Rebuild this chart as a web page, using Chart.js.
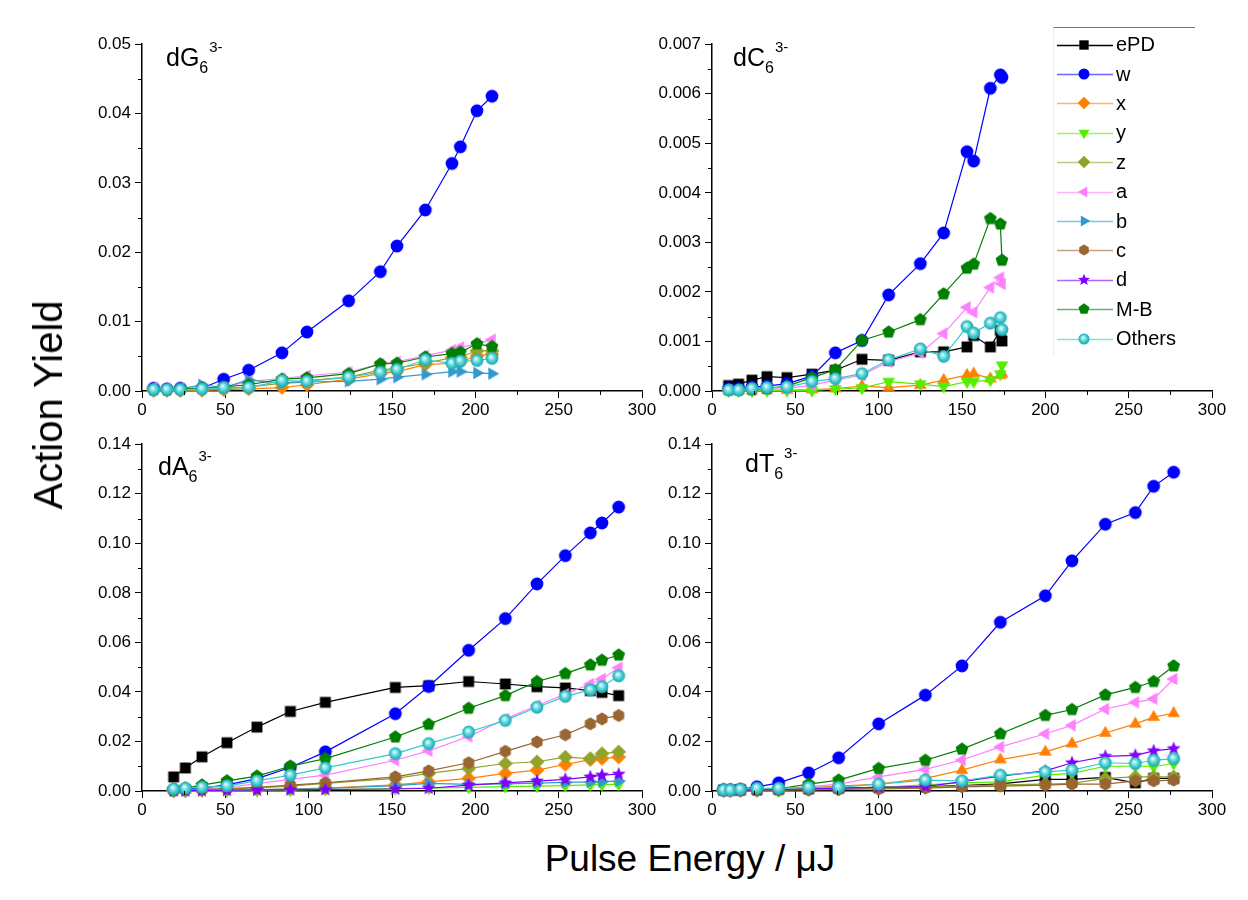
<!DOCTYPE html>
<html>
<head>
<meta charset="utf-8">
<script src="https://cdn.jsdelivr.net/npm/chart.js@4.4.1/dist/chart.umd.min.js"></script>
<style>
  body { margin: 0; background: #fff; font-family: "Liberation Sans", Arial, sans-serif; }
  #wrap { position: relative; width: 1248px; height: 900px; overflow: hidden; }
  canvas.panel { position: absolute; }
  .lab { position: absolute; font-size: 25px; line-height: 1; white-space: nowrap; }
  .lab .sb { position: relative; top: 7px; font-size: 16px; }
  .lab .sp { position: relative; top: -14px; font-size: 15px; margin-left: 1px; }
  .title { position: absolute; white-space: nowrap; line-height: 1; }
  #ytitle { left: 48px; top: 405px; font-size: 40px; transform: translate(-50%, -50%) rotate(-90deg); }
  #xtitle { left: 690px; top: 858px; font-size: 37px; transform: translate(-50%, -50%); }
  #legend { position: absolute; left: 1053px; top: 27px; width: 142px; height: 328px;
            border-top: 1px solid #777; border-left: 1px solid #eee; background: #fff; padding-top: 2px; box-sizing: border-box; }
  .row { display: flex; align-items: center; height: 29.4px; }
  .row canvas { margin-left: 3px; }
  .row span { margin-left: 3px; font-size: 20px; }
</style>
</head>
<body>
<div id="wrap">
  <canvas id="cG" class="panel" width="600" height="400" style="left:60px;top:30px"></canvas>
  <canvas id="cC" class="panel" width="600" height="400" style="left:630px;top:30px"></canvas>
  <canvas id="cA" class="panel" width="600" height="400" style="left:60px;top:430px"></canvas>
  <canvas id="cT" class="panel" width="600" height="400" style="left:630px;top:430px"></canvas>
  <div class="lab" style="left:166px;top:45px">dG<span class="sb">6</span><span class="sp">3-</span></div>
  <div class="lab" style="left:733px;top:45px">dC<span class="sb">6</span><span class="sp">3-</span></div>
  <div class="lab" style="left:158px;top:454px">dA<span class="sb">6</span><span class="sp">3-</span></div>
  <div class="lab" style="left:745px;top:451px">dT<span class="sb">6</span><span class="sp">3-</span></div>
  <div id="ytitle" class="title">Action Yield</div>
  <div id="xtitle" class="title">Pulse Energy / μJ</div>
  <div id="legend"></div>
</div>
<script>
// series shared by all four panels
const seriesNames = ['ePD', 'w', 'x', 'y', 'z', 'a', 'b', 'c', 'd', 'M-B', 'Others'];
const seriesColors = ['#000000', '#0000ff', '#ff8000', '#55ee00', '#93a32a', '#ff80ff', '#3399cc', '#996633', '#8000ff', '#008000', '#33cccc'];
const seriesShapes = ['square', 'circle', 'diamond', 'triDown', 'diamond', 'triLeft', 'triRight', 'hexagon', 'star', 'pentagon', 'sphere'];

// dG6 3-  (ePD, y, c, d not seen in this panel)
const dG_energy = [7, 15, 23, 36, 49, 64, 84, 99, 124, 143, 153, 170, 186, 191, 201, 210];
const dG_ePD = [];
const dG_w = [0.0004, 0.0003, 0.0004, 0.0004, 0.0017, 0.003, 0.0055, 0.0085, 0.013, 0.0172, 0.0209, 0.0261, 0.0328, 0.0352, 0.0404, 0.0425];
const dG_x = [0.0001, 0.0001, 0.0001, 0.0001, 0.0002, 0.0003, 0.0005, 0.0009, 0.0017, 0.0025, 0.0028, 0.0038, 0.004, 0.0042, 0.0051, 0.0053];
const dG_y = [];
const dG_z = [0.0001, 0.0001, 0.0001, 0.0002, 0.0003, 0.0006, 0.0011, 0.0015, 0.002, 0.003, 0.0033, 0.004, 0.0048, 0.0049, 0.0058, 0.0058];
const dG_a = [0.0005, 0.0004, 0.0004, 0.0005, 0.0005, 0.0014, 0.0018, 0.0022, 0.0027, 0.0039, 0.0042, 0.0051, 0.0059, 0.0063, 0.0068, 0.0074];
const dG_b = [0.0002, 0.0002, 0.0003, 0.0009, 0.0005, 0.0016, 0.0011, 0.0013, 0.0014, 0.0017, 0.002, 0.0024, 0.0028, 0.0028, 0.0026, 0.0025];
const dG_c = [];
const dG_d = [];
const dG_MB = [0.0002, 0.0002, 0.0003, 0.0004, 0.0006, 0.0009, 0.0017, 0.0019, 0.0025, 0.0039, 0.004, 0.0049, 0.0054, 0.0056, 0.0068, 0.0064];
const dG_others = [0.0002, 0.0002, 0.0002, 0.0003, 0.0005, 0.0005, 0.0015, 0.0014, 0.002, 0.0027, 0.0031, 0.0045, 0.004, 0.0043, 0.0044, 0.0047];

// dC6 3-  (z, b, c, d not seen)
const dC_energy = [10, 16, 24, 33, 45, 60, 74, 90, 106, 125, 139, 153, 157, 167, 173, 174];
const dC_ePD = [0.00011, 0.00014, 0.00022, 0.00029, 0.00027, 0.00034, 0.00042, 0.00064, 0.00062, 0.00079, 0.00079, 0.00089, 0.00112, 0.00089, 0.00122, 0.00101];
const dC_w = [0.00005, 0.00005, 0.00008, 0.0001, 0.00015, 0.0003, 0.00077, 0.00102, 0.00194, 0.00257, 0.00319, 0.00483, 0.00464, 0.00611, 0.00638, 0.00633];
const dC_x = [0.00001, 0.00001, 0.00001, 0.00002, 0.00002, 0.00003, 0.00005, 0.0001, 0.00007, 0.00012, 0.00022, 0.00032, 0.00035, 0.00025, 0.00032, 0.00035];
const dC_y = [0, 0, 0, 0.00001, 0.00001, 0.00001, 0.00004, 0.00006, 0.00019, 0.00014, 0.00009, 0.00019, 0.00019, 0.00022, 0.00034, 0.00052];
const dC_z = [];
const dC_a = [0.00002, 0.00002, 0.00003, 0.00004, 0.00005, 0.00012, 0.00022, 0.00032, 0.00059, 0.00077, 0.00116, 0.00169, 0.00159, 0.00209, 0.00229, 0.00216];
const dC_b = [];
const dC_c = [];
const dC_d = [];
const dC_MB = [0.00002, 0.00002, 0.00003, 0.00005, 0.0001, 0.00027, 0.00043, 0.00102, 0.00119, 0.00144, 0.00196, 0.00248, 0.00256, 0.00348, 0.00337, 0.00264];
const dC_others = [0.00002, 0.00002, 0.00005, 0.00007, 0.00008, 0.00019, 0.00025, 0.00035, 0.00063, 0.00085, 0.0007, 0.0013, 0.00117, 0.00137, 0.00148, 0.00124];

// dA6 3-
const dA_energy = [19, 26, 36, 51, 69, 89, 110, 152, 172, 196, 218, 237, 254, 269, 276, 286];
const dA_ePD = [0.0057, 0.0093, 0.0138, 0.0195, 0.0258, 0.0321, 0.0358, 0.0418, 0.0425, 0.0442, 0.0432, 0.0421, 0.0416, 0.0405, 0.0398, 0.0385];
const dA_w = [0.0005, 0.0008, 0.0012, 0.0025, 0.005, 0.0095, 0.0158, 0.0312, 0.0422, 0.0568, 0.0696, 0.0836, 0.095, 0.1042, 0.1082, 0.1146];
const dA_x = [0.0001, 0.0002, 0.0003, 0.0004, 0.0005, 0.0008, 0.0012, 0.0025, 0.0037, 0.0051, 0.0071, 0.0084, 0.0107, 0.0127, 0.0131, 0.0137];
const dA_y = [0, 0.0001, 0.0001, 0.0002, 0.0003, 0.0004, 0.0006, 0.001, 0.0012, 0.0015, 0.0018, 0.002, 0.0022, 0.0025, 0.0026, 0.0027];
const dA_z = [0.0002, 0.0003, 0.0005, 0.0008, 0.0013, 0.002, 0.0031, 0.0051, 0.0071, 0.0091, 0.0111, 0.0118, 0.0137, 0.0131, 0.0151, 0.0158];
const dA_a = [0.0003, 0.0005, 0.0008, 0.0015, 0.003, 0.0047, 0.0064, 0.0124, 0.0162, 0.022, 0.0291, 0.0345, 0.0391, 0.0432, 0.0452, 0.0498];
const dA_b = [0.0001, 0.0002, 0.0003, 0.0004, 0.0006, 0.0008, 0.001, 0.0022, 0.0031, 0.0027, 0.0029, 0.0032, 0.0035, 0.0037, 0.0038, 0.004];
const dA_c = [0.0003, 0.0004, 0.0006, 0.001, 0.0015, 0.0024, 0.0033, 0.0057, 0.0081, 0.0114, 0.016, 0.0198, 0.0227, 0.0271, 0.0291, 0.0305];
const dA_d = [0.0001, 0.0001, 0.0002, 0.0003, 0.0004, 0.0005, 0.0006, 0.0008, 0.0011, 0.0024, 0.0033, 0.004, 0.0047, 0.0057, 0.0064, 0.0068];
const dA_MB = [0.0008, 0.0012, 0.0024, 0.0041, 0.006, 0.01, 0.0131, 0.0218, 0.0269, 0.0334, 0.0385, 0.0442, 0.0474, 0.0509, 0.0528, 0.0549];
const dA_others = [0.0008, 0.0011, 0.0015, 0.0021, 0.0041, 0.0064, 0.0093, 0.0151, 0.0191, 0.0238, 0.0285, 0.0338, 0.0382, 0.0408, 0.0421, 0.0465];

// dT6 3-  (b not seen)
const dT_energy = [7, 11, 17, 27, 40, 58, 76, 100, 128, 150, 173, 200, 216, 236, 254, 265, 277];
const dT_ePD = [0.0004, 0.0004, 0.0005, 0.0006, 0.0008, 0.001, 0.0012, 0.0015, 0.0018, 0.0022, 0.0029, 0.0047, 0.0047, 0.0055, 0.0033, 0.0051, 0.0051];
const dT_w = [0.0005, 0.0005, 0.0007, 0.0017, 0.0033, 0.0073, 0.0134, 0.0271, 0.0387, 0.0505, 0.0681, 0.0788, 0.0929, 0.1077, 0.1124, 0.123, 0.1287];
const dT_x = [0.0003, 0.0003, 0.0004, 0.0005, 0.0007, 0.0013, 0.002, 0.0028, 0.0051, 0.0084, 0.0127, 0.0158, 0.0191, 0.0234, 0.0271, 0.0298, 0.0314];
const dT_y = [0.0002, 0.0002, 0.0003, 0.0004, 0.0005, 0.0008, 0.001, 0.0015, 0.0025, 0.0033, 0.0037, 0.0064, 0.0071, 0.01, 0.01, 0.0099, 0.0111];
const dT_z = [0.0002, 0.0002, 0.0003, 0.0004, 0.0005, 0.0007, 0.0009, 0.0012, 0.0016, 0.002, 0.0025, 0.0028, 0.0031, 0.0051, 0.0057, 0.0057, 0.0057];
const dT_a = [0.0004, 0.0004, 0.0005, 0.0007, 0.0009, 0.0017, 0.0028, 0.0057, 0.0087, 0.0125, 0.0178, 0.0231, 0.0265, 0.0331, 0.0358, 0.0372, 0.0452];
const dT_b = [];
const dT_c = [0.0001, 0.0001, 0.0001, 0.0002, 0.0003, 0.0004, 0.0006, 0.0008, 0.0012, 0.0017, 0.002, 0.0024, 0.0028, 0.0028, 0.0041, 0.0041, 0.0044];
const dT_d = [0.0002, 0.0002, 0.0003, 0.0004, 0.0006, 0.0008, 0.0012, 0.0015, 0.0018, 0.0038, 0.006, 0.0081, 0.0114, 0.014, 0.0144, 0.0162, 0.0171];
const dT_MB = [0.0005, 0.0005, 0.0006, 0.0008, 0.0009, 0.0028, 0.0044, 0.0091, 0.0124, 0.0169, 0.0231, 0.0305, 0.0329, 0.0388, 0.0418, 0.0442, 0.0505];
const dT_others = [0.0004, 0.0004, 0.0007, 0.0011, 0.0011, 0.0015, 0.0015, 0.0028, 0.0044, 0.0041, 0.0064, 0.0077, 0.0084, 0.0114, 0.0111, 0.0124, 0.0131];

const FONT = "'Liberation Sans', Arial, sans-serif";

function drawMarker(ctx, shape, x, y, r, color) {
    ctx.fillStyle = color;
    ctx.beginPath();
    if (shape == 'square') {
        ctx.rect(x - r * 0.85, y - r * 0.85, r * 1.7, r * 1.7);
    } else if (shape == 'circle') {
        ctx.arc(x, y, r, 0, Math.PI * 2);
    } else if (shape == 'sphere') {
        var g = ctx.createRadialGradient(x - r * 0.2, y - r * 0.3, 0, x, y, r);
        g.addColorStop(0, '#ffffff');
        g.addColorStop(0.35, '#8fe4e6');
        g.addColorStop(0.7, '#33c6cc');
        g.addColorStop(1, '#22a4ac');
        ctx.fillStyle = g;
        ctx.arc(x, y, r, 0, Math.PI * 2);
    } else if (shape == 'star') {
        for (var k = 0; k < 10; k++) {
            var rr = k % 2 == 0 ? r * 1.15 : r * 0.5;
            var ang = -Math.PI / 2 + k * Math.PI / 5;
            ctx.lineTo(x + rr * Math.cos(ang), y + rr * Math.sin(ang));
        }
    } else {
        var n, start, rad = r;
        if (shape == 'diamond') { n = 4; start = -Math.PI / 2; rad = r * 1.15; }
        else if (shape == 'triUp') { n = 3; start = -Math.PI / 2; rad = r * 1.15; }
        else if (shape == 'triDown') { n = 3; start = Math.PI / 2; rad = r * 1.15; }
        else if (shape == 'triLeft') { n = 3; start = Math.PI; rad = r * 1.15; }
        else if (shape == 'triRight') { n = 3; start = 0; rad = r * 1.15; }
        else if (shape == 'hexagon') { n = 6; start = -Math.PI / 2; }
        else { n = 5; start = -Math.PI / 2; rad = r * 1.05; }
        for (var k = 0; k < n; k++) {
            var ang = start + k * Math.PI * 2 / n;
            ctx.lineTo(x + rad * Math.cos(ang), y + rad * Math.sin(ang));
        }
    }
    ctx.closePath();
    ctx.fill();
}

function markerImage(shape, color) {
    const c = document.createElement('canvas');
    c.width = 18; c.height = 18;
    drawMarker(c.getContext('2d'), shape, 9, 9, 6.4, color);
    return c;
}

// short minor ticks half way between the labelled ones
const minorTicks = {
    id: 'minorTicks',
    afterDraw(chart, args, opts) {
        const ctx = chart.ctx;
        const xs = chart.scales.x, ys = chart.scales.y;
        ctx.save();
        ctx.strokeStyle = '#000';
        ctx.lineWidth = 1;
        for (let k = 0; k < 6; k++) {
            const px = Math.round(xs.getPixelForValue(25 + k * 50)) + 0.5;
            ctx.beginPath(); ctx.moveTo(px, xs.top); ctx.lineTo(px, xs.top + 4); ctx.stroke();
        }
        for (let k = 0; k < opts.count; k++) {
            const py = Math.round(ys.getPixelForValue((k + 0.5) * opts.step)) + 0.5;
            ctx.beginPath(); ctx.moveTo(ys.right, py); ctx.lineTo(ys.right - 4, py); ctx.stroke();
        }
        ctx.restore();
    }
};

function makePanel(id, energy, values, yMax, yStep, digits, xShape) {
    const datasets = seriesNames.map((name, i) => {
        const shape = (i == 2 && xShape) ? xShape : seriesShapes[i];
        return {
            label: name,
            data: energy.map((e, k) => ({x: e, y: values[i][k]})).filter(p => p.y != null),
            borderColor: seriesColors[i],
            borderWidth: 1.2,
            pointStyle: markerImage(shape, seriesColors[i]),
            pointRadius: 6,
            tension: 0,
            fill: false,
            clip: false,
            order: seriesNames.length - i
        };
    });
    new Chart(document.getElementById(id), {
        type: 'line',
        data: {datasets: datasets},
        options: {
            responsive: false,
            animation: false,
            events: [],
            layout: {padding: {top: 12, right: 18, left: 0, bottom: 0}},
            plugins: {
                legend: {display: false},
                tooltip: {enabled: false},
                minorTicks: {step: yStep, count: Math.round(yMax / yStep)}
            },
            scales: {
                x: {
                    type: 'linear', min: 0, max: 300,
                    afterFit(s) { s.height = 39; },
                    ticks: {stepSize: 50, color: '#000', font: {family: FONT, size: 17}, padding: 2, maxRotation: 0},
                    grid: {drawOnChartArea: false, drawTicks: true, tickLength: 7, tickColor: '#000', color: '#000'},
                    border: {display: true, color: '#000', width: 1.5}
                },
                y: {
                    min: 0, max: yMax,
                    afterFit(s) { s.width = 82; },
                    ticks: {stepSize: yStep, color: '#000', font: {family: FONT, size: 17}, padding: 4,
                            callback: v => v.toFixed(digits)},
                    grid: {drawOnChartArea: false, drawTicks: true, tickLength: 7, tickColor: '#000', color: '#000'},
                    border: {display: true, color: '#000', width: 1.5}
                }
            }
        },
        plugins: [minorTicks]
    });
}

makePanel('cG', dG_energy, [dG_ePD, dG_w, dG_x, dG_y, dG_z, dG_a, dG_b, dG_c, dG_d, dG_MB, dG_others], 0.05, 0.01, 2, null);
makePanel('cC', dC_energy, [dC_ePD, dC_w, dC_x, dC_y, dC_z, dC_a, dC_b, dC_c, dC_d, dC_MB, dC_others], 0.007, 0.001, 3, 'triUp');
makePanel('cA', dA_energy, [dA_ePD, dA_w, dA_x, dA_y, dA_z, dA_a, dA_b, dA_c, dA_d, dA_MB, dA_others], 0.14, 0.02, 2, null);
makePanel('cT', dT_energy, [dT_ePD, dT_w, dT_x, dT_y, dT_z, dT_a, dT_b, dT_c, dT_d, dT_MB, dT_others], 0.14, 0.02, 2, 'triUp');

// legend: line with marker, then the name
const legend = document.getElementById('legend');
seriesNames.forEach((name, i) => {
    const row = document.createElement('div');
    row.className = 'row';
    const c = document.createElement('canvas');
    c.width = 56; c.height = 16;
    const ctx = c.getContext('2d');
    ctx.strokeStyle = seriesColors[i];
    ctx.globalAlpha = i == 0 ? 1 : 0.6;
    ctx.lineWidth = 1.5;
    ctx.beginPath(); ctx.moveTo(0, 8.5); ctx.lineTo(56, 8.5); ctx.stroke();
    ctx.globalAlpha = 1;
    drawMarker(ctx, seriesShapes[i], 27, 8, 5.5, seriesColors[i]);
    const t = document.createElement('span');
    t.textContent = name;
    row.appendChild(c);
    row.appendChild(t);
    legend.appendChild(row);
});
</script>
</body>
</html>
